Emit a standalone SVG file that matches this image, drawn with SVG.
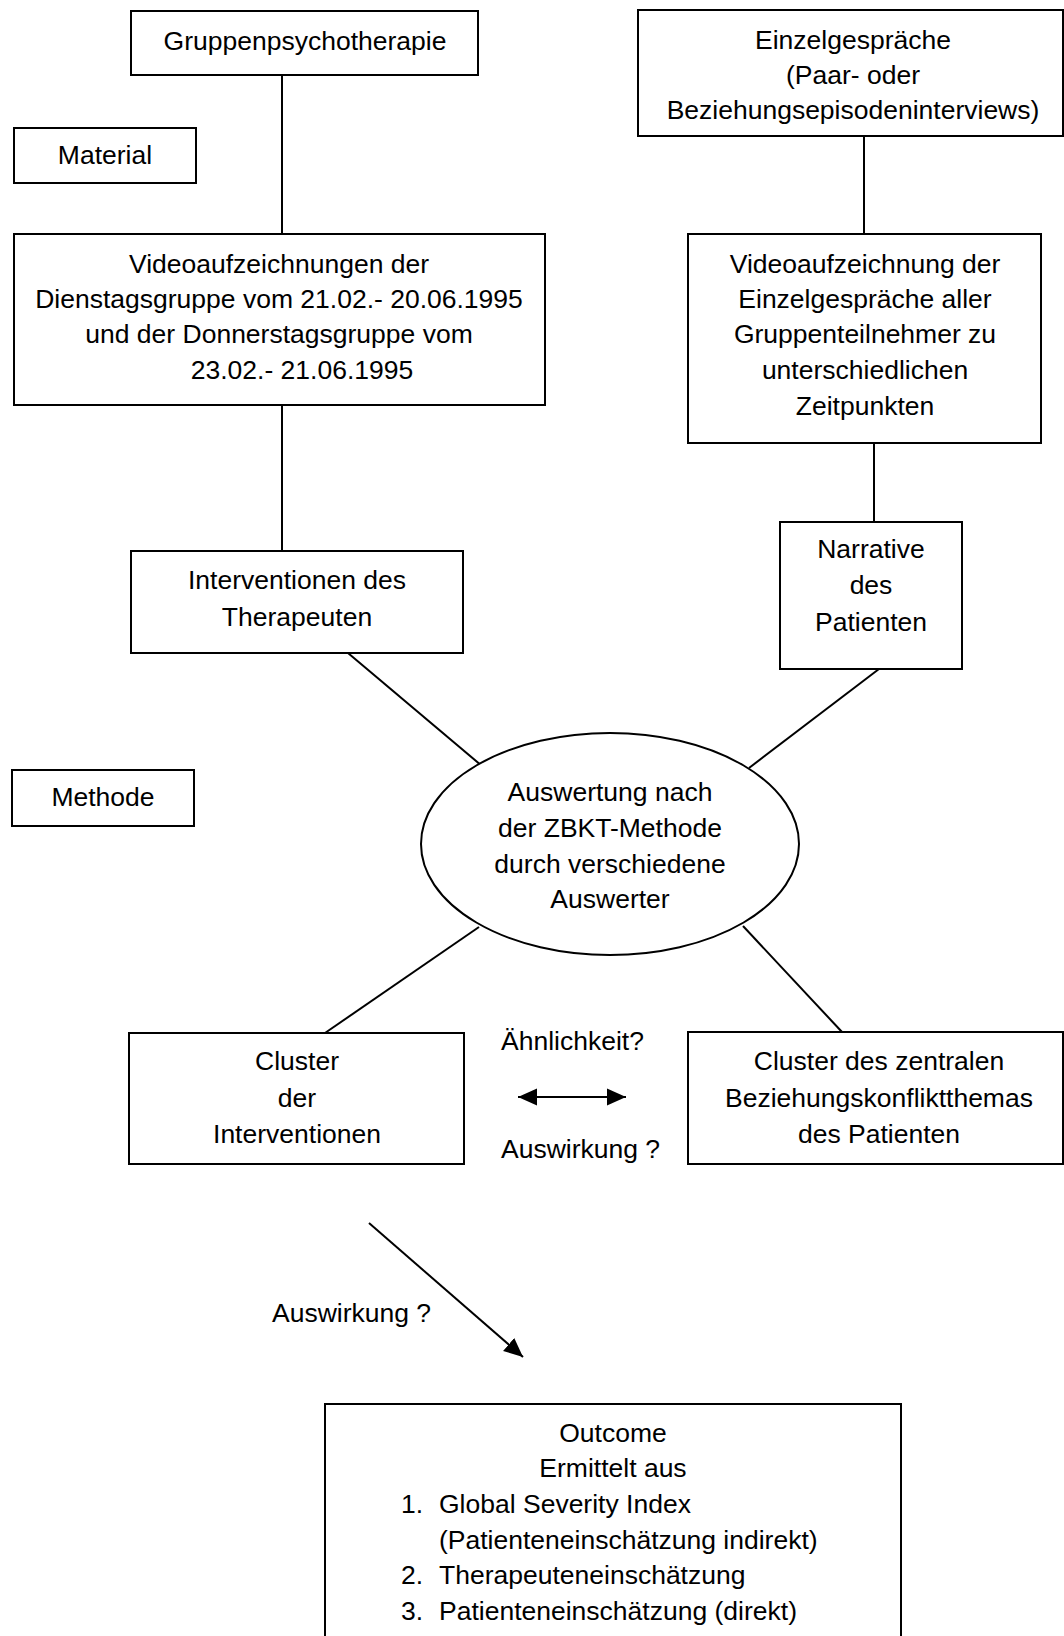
<svg xmlns="http://www.w3.org/2000/svg" width="1064" height="1636" viewBox="0 0 1064 1636">
<style>
.box{fill:#fff;stroke:#000;stroke-width:2}
.ln{fill:none;stroke:#000;stroke-width:2}
text{font-family:"Liberation Sans",Arial,sans-serif;font-size:26.5px;fill:#000}
.c{text-anchor:middle}
</style>
<defs>
<marker id="ah" markerUnits="userSpaceOnUse" markerWidth="21" markerHeight="18" refX="19" refY="8.5" orient="auto-start-reverse" viewBox="0 0 21 17">
<path d="M0,0 L19,8.5 L0,17 Z" fill="#000"/>
</marker>
</defs>
<rect width="1064" height="1636" fill="#fff"/>
<g id="connectors">
<line class="ln" x1="282" y1="75" x2="282" y2="234"/>
<line class="ln" x1="864" y1="136" x2="864" y2="234"/>
<line class="ln" x1="282" y1="405" x2="282" y2="551"/>
<line class="ln" x1="874" y1="443" x2="874" y2="522"/>
<line class="ln" x1="348" y1="653" x2="482" y2="766"/>
<line class="ln" x1="879" y1="669" x2="749" y2="768"/>
<line class="ln" x1="479" y1="927" x2="325" y2="1033"/>
<line class="ln" x1="743" y1="926" x2="842" y2="1032"/>
<line class="ln" x1="518" y1="1097" x2="626" y2="1097" stroke-width="3" marker-start="url(#ah)" marker-end="url(#ah)"/>
<line class="ln" x1="369" y1="1223" x2="523" y2="1357" marker-end="url(#ah)"/>
</g>
<g id="n-gruppen">
<rect class="box" x="131" y="11" width="347" height="64"/>
<text class="c" x="305" y="50">Gruppenpsychotherapie</text>
</g>
<g id="n-material">
<rect class="box" x="14" y="128" width="182" height="55"/>
<text class="c" x="105" y="164">Material</text>
</g>
<g id="n-einzel">
<rect class="box" x="638" y="10" width="425" height="126"/>
<text class="c" x="853" y="49">Einzelgespräche</text>
<text class="c" x="853" y="84">(Paar- oder</text>
<text class="c" x="853" y="119">Beziehungsepisodeninterviews)</text>
</g>
<g id="n-video-left">
<rect class="box" x="14" y="234" width="531" height="171"/>
<text class="c" x="279" y="273">Videoaufzeichnungen der</text>
<text class="c" x="279" y="308">Dienstagsgruppe vom 21.02.- 20.06.1995</text>
<text class="c" x="279" y="343">und der Donnerstagsgruppe vom</text>
<text class="c" x="302" y="379">23.02.- 21.06.1995</text>
</g>
<g id="n-video-right">
<rect class="box" x="688" y="234" width="353" height="209"/>
<text class="c" x="865" y="273">Videoaufzeichnung der</text>
<text class="c" x="865" y="308">Einzelgespräche aller</text>
<text class="c" x="865" y="343">Gruppenteilnehmer zu</text>
<text class="c" x="865" y="379">unterschiedlichen</text>
<text class="c" x="865" y="415">Zeitpunkten</text>
</g>
<g id="n-interventionen">
<rect class="box" x="131" y="551" width="332" height="102"/>
<text class="c" x="297" y="589">Interventionen des</text>
<text class="c" x="297" y="626">Therapeuten</text>
</g>
<g id="n-narrative">
<rect class="box" x="780" y="522" width="182" height="147"/>
<text class="c" x="871" y="558">Narrative</text>
<text class="c" x="871" y="594">des</text>
<text class="c" x="871" y="631">Patienten</text>
</g>
<g id="n-methode">
<rect class="box" x="12" y="770" width="182" height="56"/>
<text class="c" x="103" y="806">Methode</text>
</g>
<g id="n-auswertung">
<ellipse class="box" cx="610" cy="844" rx="189" ry="111"/>
<text class="c" x="610" y="801">Auswertung nach</text>
<text class="c" x="610" y="837">der ZBKT-Methode</text>
<text class="c" x="610" y="873">durch verschiedene</text>
<text class="c" x="610" y="908">Auswerter</text>
</g>
<g id="n-cluster-int">
<rect class="box" x="129" y="1033" width="335" height="131"/>
<text class="c" x="297" y="1070">Cluster</text>
<text class="c" x="297" y="1107">der</text>
<text class="c" x="297" y="1143">Interventionen</text>
</g>
<g id="n-cluster-pat">
<rect class="box" x="688" y="1032" width="375" height="132"/>
<text class="c" x="879" y="1070">Cluster des zentralen</text>
<text class="c" x="879" y="1107">Beziehungskonfliktthemas</text>
<text class="c" x="879" y="1143">des Patienten</text>
</g>
<g id="labels">
<text x="501" y="1050">Ähnlichkeit?</text>
<text x="501" y="1158">Auswirkung ?</text>
<text x="272" y="1322">Auswirkung ?</text>
</g>
<g id="n-outcome">
<rect class="box" x="325" y="1404" width="576" height="260"/>
<text class="c" x="613" y="1442">Outcome</text>
<text class="c" x="613" y="1477">Ermittelt aus</text>
<text x="401" y="1513">1.</text>
<text x="439" y="1513">Global Severity Index</text>
<text x="439" y="1549">(Patienteneinschätzung indirekt)</text>
<text x="401" y="1584">2.</text>
<text x="439" y="1584">Therapeuteneinschätzung</text>
<text x="401" y="1620">3.</text>
<text x="439" y="1620">Patienteneinschätzung (direkt)</text>
</g>
</svg>
